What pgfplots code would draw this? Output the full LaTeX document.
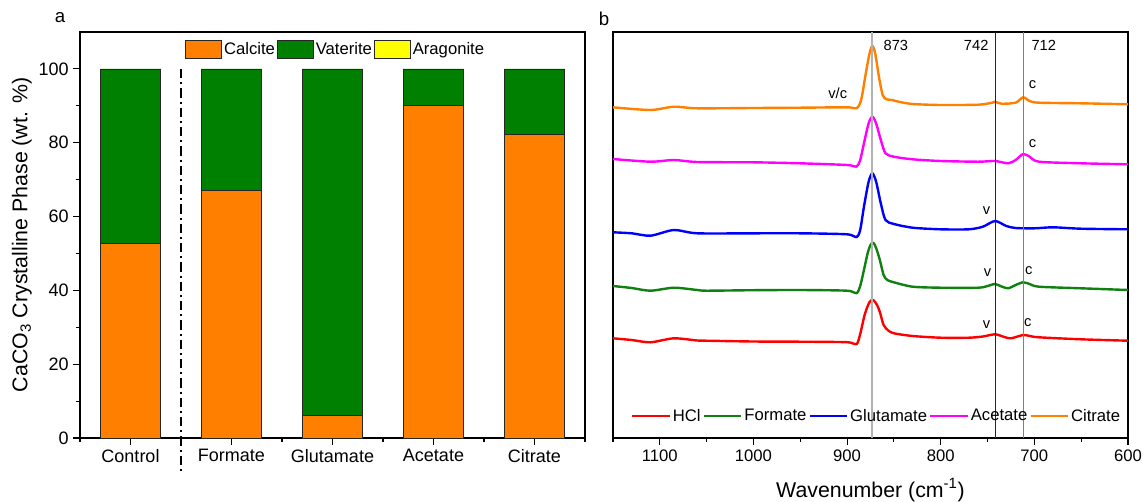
\documentclass[border=0pt]{standalone}
\usepackage{pgfplots}
\pgfplotsset{compat=1.18}
\usepackage{fontspec}
\setmainfont{Liberation Sans}
\setsansfont{Liberation Sans}
\definecolor{calc}{RGB}{255,128,0}
\definecolor{vat}{RGB}{0,128,0}
\definecolor{arag}{RGB}{255,255,0}
\definecolor{sred}{RGB}{255,0,0}
\definecolor{sgreen}{RGB}{16,128,16}
\definecolor{sblue}{RGB}{0,0,255}
\definecolor{smag}{RGB}{255,0,255}
\definecolor{sorange}{RGB}{255,128,0}
\pgfplotsset{
  boxlegend/.style={legend image code/.code={\draw[##1] (0pt,-6.75pt) rectangle (27pt,6.75pt);}},
  linelegend/.style={legend image code/.code={\draw[##1,sharp plot] (0pt,0pt) -- (28pt,0pt);}},
}
\begin{document}
\begin{tikzpicture}
\path[use as bounding box] (0,0) rectangle (857.25pt,-375.75pt);
% ---------------- panel a ----------------
\begin{axis}[
  at={(60pt,-328.5pt)}, anchor=south west,
  scale only axis, width=378.75pt, height=304.5pt,
  ybar stacked, bar width=0.6,
  xmin=-0.5, xmax=4.5, ymin=0, ymax=110,
  xtick={0,1,2,3,4},
  xticklabels={Control,Formate,Glutamate,Acetate,Citrate},
  minor xtick={-0.5,0.5,1.5,2.5,3.5,4.5},
  ytick={0,20,40,60,80,100},
  minor ytick={10,30,50,70,90},
  tick align=outside, tick pos=left,
  major tick length=5pt, minor tick length=3pt,
  every tick/.style={black, line width=0.8pt},
  axis line style={line width=0.8pt},
  /pgf/number format/assume math mode=true,
  ticklabel style={font=\fontsize{13.5}{16}\selectfont},
  ylabel={CaCO\textsubscript{3} Crystalline Phase (wt. \%)},
  ylabel style={font=\fontsize{16}{19}\selectfont, at={(axis description cs:-0.115,0.5)}, anchor=center},
  clip=false,
  legend style={at={(0.2,0.956)}, anchor=west, draw=none, fill=none,
    legend columns=-1, font=\fontsize{12.5}{15}\selectfont,
    /tikz/every even column/.append style={column sep=0pt},
    nodes={inner sep=1.5pt}},
]
\addplot[fill=calc, draw=black!85, line width=0.6pt, boxlegend]
  coordinates {(0,52.7) (1,67) (2,6) (3,90) (4,82.2)};
\addlegendentry{Calcite}
\addplot[fill=vat, draw=black!85, line width=0.6pt, boxlegend]
  coordinates {(0,47.3) (1,33) (2,94) (3,10) (4,17.8)};
\addlegendentry{Vaterite}
\addlegendimage{fill=arag, draw=black!85, line width=0.6pt, boxlegend}
\addlegendentry{Aragonite}
\draw[black, line width=1pt, dash pattern=on 7pt off 3pt on 1.5pt off 3pt]
  (axis cs:0.5,100) -- (axis cs:0.5,-9);
\end{axis}
\node[font=\fontsize{14}{16}\selectfont] at (45pt,-13pt) {a};
% ---------------- panel b ----------------
\begin{axis}[
  at={(459.75pt,-328.5pt)}, anchor=south west,
  scale only axis, width=386.25pt, height=304.5pt,
  xmin=600, xmax=1150, x dir=reverse,
  ymin=0, ymax=406, ytick=\empty,
  xtick={600,700,800,900,1000,1100},
  minor xtick={650,750,850,950,1050,1150},
  tick align=outside, xtick pos=left,
  major tick length=5pt, minor tick length=3pt,
  every tick/.style={black, line width=0.8pt},
  axis line style={line width=0.8pt},
  /pgf/number format/assume math mode=true,
  /pgf/number format/1000 sep={},
  ticklabel style={font=\fontsize{12.5}{15}\selectfont},
  xlabel={Wavenumber (cm\textsuperscript{-1})},
  xlabel style={font=\fontsize{16}{19}\selectfont, at={(axis description cs:0.5,-0.128)}, anchor=center},
  clip=false,
  legend style={at={(0.027,0.054)}, anchor=west, draw=none, fill=none,
    legend columns=-1, font=\fontsize{12.5}{15}\selectfont,
    /tikz/every even column/.append style={column sep=0pt},
    nodes={inner sep=1.5pt}},
  every axis plot/.append style={line width=1.8pt, mark=none, line join=round, smooth, tension=0.45, linelegend},
]
\addplot[sred] coordinates {(1150,99.7) (1130,98) (1110,95.7) (1085,99.7) (1060,97.5) (1050,97.3) (1000,96.5) (950,96.3) (900,95.8) (890,93.7) (886,104) (881,124) (876,136) (872,138) (868,133) (865,126) (861,113) (856,107.5) (850,104.7) (830,102) (800,100.3) (770,100.3) (755,101.5) (742,103.7) (732,101) (725,99.7) (712,103) (705,102) (695,100.7) (650,98.7) (600,97.3)};
\addlegendentry{HCl}
\addplot[sgreen] coordinates {(1150,152) (1130,150) (1110,147.3) (1085,150.3) (1060,148) (1050,147.3) (1000,147.8) (950,148) (900,147.3) (890,144.7) (886,152) (882,168) (878,185) (875,193) (872,195.3) (869,190) (865,178) (861,163) (857,158) (850,155.7) (830,151.3) (800,150.3) (760,150.3) (750,152) (742,154) (735,151.5) (728,149.7) (720,153) (712,155.7) (705,154) (695,151.3) (650,149.7) (600,148)};
\addlegendentry{Formate}
\addplot[sblue] coordinates {(1150,205.7) (1130,204.7) (1110,202.3) (1085,208) (1060,204.7) (1000,204.7) (950,204.7) (900,203.7) (890,200.7) (886,208) (882,231.3) (877,256.3) (873,264.7) (869,256.3) (864,234.7) (859,218) (850,214) (830,210.3) (800,208.7) (770,208.7) (755,211.3) (742,217) (730,212) (720,210) (700,209.7) (680,210.7) (650,209.3) (600,208.7)};
\addlegendentry{Glutamate}
\addplot[smag] coordinates {(1150,279) (1110,276.3) (1085,278) (1060,276) (1000,275.7) (950,274.7) (900,273) (890,271.3) (886,278) (882,294.7) (877,314.7) (873,321.3) (869,314.7) (864,298) (859,284.7) (850,281.3) (830,278.7) (800,277) (760,276.3) (742,277) (728,274.7) (720,278) (712,284) (705,281.3) (695,276.3) (650,274.7) (600,273.7)};
\addlegendentry{Acetate}
\addplot[sorange] coordinates {(1150,330.7) (1110,328) (1085,331.3) (1060,329.7) (1000,330) (950,330.3) (900,330.7) (890,329.7) (885,338) (880,364.7) (876,384.7) (873,392) (870,384.7) (866,361.3) (862,343) (858,338.7) (852,338) (845,336.3) (830,334) (800,333) (760,333.3) (745,335.3) (742,336.3) (735,334.3) (720,335.3) (712,340.7) (705,337) (695,335.3) (650,334.7) (600,333.7)};
\addlegendentry{Citrate}
\addplot[black!30, line width=1.6pt, forget plot, sharp plot] coordinates {(873,0) (873,406)};
\addplot[black!85, line width=0.8pt, forget plot, sharp plot] coordinates {(742,0) (742,406)};
\addplot[black!50, line width=0.8pt, forget plot, sharp plot] coordinates {(712,0) (712,406)};
\begin{scope}[font=\fontsize{11}{13}\selectfont]
\node[anchor=west] at (axis cs:866,393) {873};
\node[anchor=east] at (axis cs:744,393) {742};
\node[anchor=west] at (axis cs:708,393) {712};
\node at (axis cs:910,345) {v/c};
\node at (axis cs:702,353) {c};
\node at (axis cs:702,294) {c};
\node at (axis cs:751,227) {v};
\node at (axis cs:750,165) {v};
\node at (axis cs:706,167) {c};
\node at (axis cs:751,113) {v};
\node at (axis cs:707,115) {c};
\end{scope}
\end{axis}
\node[font=\fontsize{14}{16}\selectfont] at (453pt,-14pt) {b};
\end{tikzpicture}
\end{document}
